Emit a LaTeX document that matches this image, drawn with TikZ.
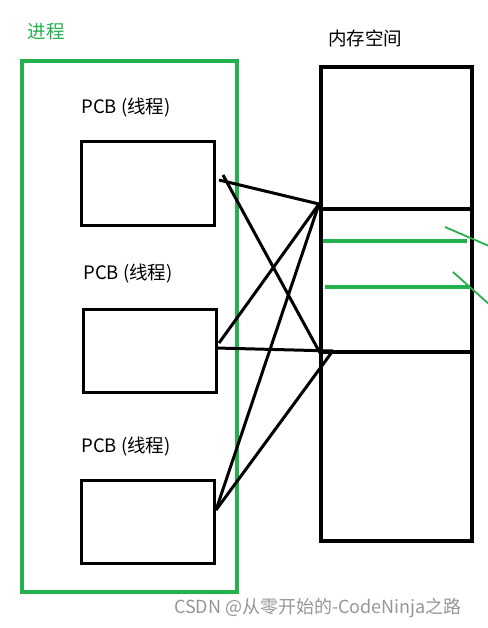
\documentclass[tikz,border=0pt]{standalone}
\usepackage{fontspec}
\setmainfont{Noto Sans CJK SC}
\usetikzlibrary{positioning}
\definecolor{procGreen}{RGB}{34,177,76}
\definecolor{markGray}{RGB}{150,150,150}

\begin{document}
\begin{tikzpicture}[x=1pt, y=-1pt,
      pcb/.style={draw=black, line width=3pt, minimum width=133pt, minimum height=83pt, inner sep=0pt},
      link/.style={line width=3pt, draw=black},
      txt/.style={font=\fontsize{18.5}{22}\selectfont, inner sep=0pt}
    ]
    \useasboundingbox (0,0) rectangle (487,628);
    % process and memory frames
    \node[draw=procGreen, line width=3.2pt, minimum width=215pt, minimum height=531pt, inner sep=0pt] (proc) at (129.5,326.5) {};
    \node[txt, text=procGreen] (procName) at (46,32) {进程};
    \node[draw=black, line width=3.2pt, minimum width=151pt, minimum height=474pt, inner sep=0pt] (mem) at (396.5,304) {};
    \node[draw=black, line width=3.2pt, minimum width=151pt, minimum height=143pt, inner sep=0pt] (band) at (396.5,280.5) {};
    \node[txt] (memName) at (365,38) {内存空间};

    % threads
    \node[pcb] (pcbA) at (147.5,183.5) {};
    \node[pcb] (pcbB) at (149.5,351) {};
    \node[pcb] (pcbC) at (147.5,522) {};
    \node[txt] (nameA) at (126,108) {PCB (线程)};
    \node[txt] (nameB) at (128,274) {PCB (线程)};
    \node[txt] (nameC) at (126,447) {PCB (线程)};

    % ends of the strokes
    \coordinate (aOut) at (219,180);
    \coordinate (aCross) at (223,175);
    \coordinate (bUp) at (219,343);
    \coordinate (bOut) at (216,348);
    \coordinate (cOut) at (216,510);
    \coordinate (memHi) at (319,204);
    \coordinate (memLo) at (320,353);
    \coordinate (memLoB) at (333,351);
    \coordinate (memLoC) at (332,352);

    \draw[link] (aOut) -- (memHi);
    \draw[link] (aCross) -- (memLo);
    \draw[link] (memHi) -- (bUp);
    \draw[link] (bOut) -- (memLoB);
    \draw[link] (memHi) -- (cOut);
    \draw[link] (cOut) -- (memLoC);

    % marks in the shared region
    \draw[procGreen, line width=3.2pt] (323,241) -- (467,241);
    \draw[procGreen, line width=3.2pt] (325,287) -- (470,287);
    \draw[procGreen, line width=1.8pt] (445,227) -- (489,246);
    \draw[procGreen, line width=1.8pt] (453,272) -- (490,305);

    \node[font=\fontsize{18}{22}\selectfont, text=markGray, inner sep=0pt] (mark) at (318,608) {CSDN @从零开始的-CodeNinja之路};
  \end{tikzpicture}
\end{document}
